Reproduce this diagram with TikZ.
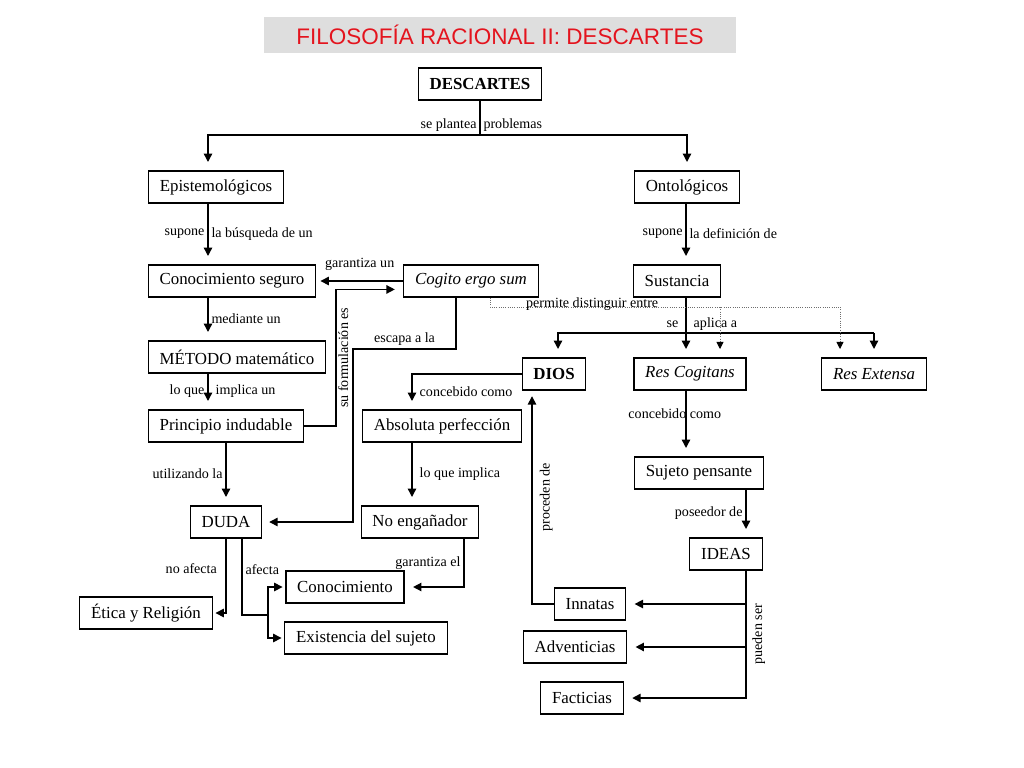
\documentclass[tikz,border=0pt]{standalone}
\usepackage{fontspec}
\setmainfont{Liberation Serif}
\newfontfamily\titulofont{Liberation Sans}
\usetikzlibrary{arrows.meta}
\definecolor{rojotit}{RGB}{228,20,30}
\definecolor{grisfondo}{RGB}{222,222,222}
\definecolor{grispunto}{RGB}{110,110,110}
\tikzset{
  caja/.style={draw, line width=0.8pt, minimum height=0.8cm, inner xsep=8pt, inner ysep=2pt, font=\fontsize{12}{14}\selectfont},
  negrita/.style={font=\fontsize{12}{14}\selectfont\bfseries},
  cursiva/.style={font=\fontsize{12}{14}\selectfont\itshape},
  etiq/.style={font=\fontsize{10}{12}\selectfont, inner sep=2pt},
  linea/.style={line width=1pt},
  flecha/.style={linea, -{Triangle[length=6pt,width=6pt]}, shorten >=6pt},
  punteado/.style={line width=0.6pt, densely dotted, grispunto},
  flechapunt/.style={punteado, -{Triangle[length=5pt,width=5pt,color=black]}, shorten >=6pt},
}
\begin{document}
\begin{tikzpicture}[x=0.025cm,y=-0.025cm]
	\useasboundingbox (0,0) rectangle (1024,768);
	\node[fill=grisfondo, minimum width=11.8cm, minimum height=0.9cm, text=rojotit, font=\titulofont\fontsize{16}{18}\selectfont] (titulo) at (500,35) {FILOSOFÍA RACIONAL II: DESCARTES};

	% conceptos
	\node[caja, negrita] (desc) at (480,84) {DESCARTES};
	\node[caja] (epis) at (216,187) {Epistemológicos};
	\node[caja] (onto) at (687,187) {Ontológicos};
	\node[caja] (conseg) at (232,281) {Conocimiento seguro};
	\node[caja, cursiva] (cogito) at (471,281) {Cogito ergo sum};
	\node[caja] (sust) at (677,281) {Sustancia};
	\node[caja] (metodo) at (237,357) {MÉTODO matemático};
	\node[caja, negrita] (dios) at (554,374) {DIOS};
	\node[caja, cursiva] (rescog) at (690,374) {Res Cogitans};
	\node[caja, cursiva] (resext) at (874,374) {Res Extensa};
	\node[caja] (princ) at (226,426) {Principio indudable};
	\node[caja] (absol) at (442,426) {Absoluta perfección};
	\node[caja] (sujeto) at (699,473) {Sujeto pensante};
	\node[caja] (duda) at (226,522) {DUDA};
	\node[caja] (noeng) at (420,522) {No engañador};
	\node[caja] (ideas) at (726,554) {IDEAS};
	\node[caja] (conoc) at (345,587) {Conocimiento};
	\node[caja] (etica) at (146,613) {Ética y Religión};
	\node[caja] (exist) at (366,638) {Existencia del sujeto};
	\node[caja] (innat) at (590,604) {Innatas};
	\node[caja] (advent) at (575,647) {Adventicias};
	\node[caja] (facti) at (582,698) {Facticias};

	% carriles
	\coordinate (cE) at (208,0);
	\coordinate (cB) at (456,0);
	\coordinate (cD) at (412,0);
	\coordinate (cG) at (686,0);
	\coordinate (cH) at (746,0);
	\coordinate (cI) at (532,0);
	\coordinate (cJ) at (242,0);
	\coordinate (cK) at (464,0);
	\coordinate (cL) at (490,0);
	\coordinate (bif) at (480,135);
	\coordinate (cC) at (353,349);
	\coordinate (cF) at (268,615);
	\coordinate (hL) at (558,333);
	\coordinate (pM) at (720,307);
	\coordinate (pR) at (840,307);

	% rama izquierda
	\draw[linea] (desc.south) -- node[etiq, pos=0.7, left] {se plantea} node[etiq, pos=0.7, right] {problemas} (desc.south |- bif);
	\draw[flecha] (bif) -| (epis.north -| cE);
	\draw[flecha] (bif) -| (onto.north);
	\draw[flecha] (epis.south -| cE) -- node[etiq, left] {supone} node[etiq, right] {la búsqueda de un} (conseg.north -| cE);
	\draw[flecha, shorten >=3pt] (cogito.west) -- node[etiq, above=5pt] {garantiza un} (conseg.east);
	\draw[flecha] (conseg.south -| cE) -- node[etiq, right] {mediante un} (metodo.north -| cE);
	\draw[flecha] (metodo.south -| cE) -- node[etiq, left] {lo que} node[etiq, right=3pt] {implica un} (princ.north -| cE);
	\draw[flecha] (princ.east) -- ++(32,0) |- node[etiq, pos=0.25, rotate=90, anchor=north, inner sep=1pt] {su formulación es} ([yshift=-6pt]cogito.west);
	\draw[flecha, shorten >=5pt] (cogito.south -| cB) |- node[etiq, pos=0.75, above] {escapa a la} (cC) |- (duda.east);
	\draw[flecha] (princ.south -| duda.north) -- node[etiq, left] {utilizando la} (duda.north);

	% dios
	\draw[flecha] (dios.west) -| node[etiq, pos=0.75, right=3pt] {concebido como} (absol.north -| cD);
	\draw[flecha] (absol.south -| cD) -- node[etiq, right=3pt] {lo que implica} (noeng.north -| cD);
	\draw[flecha] (noeng.south -| cK) |- node[etiq, pos=0.25, left=0pt] {garantiza el} (conoc.east);

	% duda
	\draw[flecha, shorten >=2pt] (duda.south) |- node[etiq, pos=0.2, left=4pt] {no afecta} (etica.east);
	\draw[linea] (duda.south -| cJ) |- node[etiq, pos=0.2, right=0pt] {afecta} (cF);
	\draw[flecha, shorten >=2pt] (cF) |- (conoc.west);
	\draw[flecha, shorten >=2pt] (cF) |- (exist.west);

	% rama derecha
	\draw[flecha] (onto.south -| cG) -- node[etiq, left] {supone} node[etiq, right] {la definición de} (sust.north -| cG);
	\draw[flecha] (sust.south -| cG) -- node[etiq, pos=0.45, left=3pt] {se} node[etiq, pos=0.45, right=3pt] {aplica a} (rescog.north -| cG);
	\draw[flecha] (resext.north |- hL) -| (dios.north -| hL);
	\draw[flecha] (resext.north |- hL) -- (resext.north);
	\draw[punteado] (cogito.south -| cL) |- node[etiq, pos=0.646, yshift=2pt, text=black] {permite distinguir entre} (pR);
	\draw[flechapunt] (pM) -- (rescog.north -| pM);
	\draw[flechapunt] (pR) -- (resext.north -| pR);
	\draw[flecha] (rescog.south -| cG) -- node[etiq, pos=0.35, xshift=-8pt] {concebido como} (sujeto.north -| cG);
	\draw[flecha] (sujeto.south -| cH) -- node[etiq, left] {poseedor de} (ideas.north -| cH);

	% ideas
	\draw[flecha] (ideas.south -| cH) |- node[etiq, pos=0.25, rotate=90, anchor=north, inner sep=4pt] {pueden ser} (facti.east);
	\draw[flecha] (cH |- innat) -- (innat.east);
	\draw[flecha] (cH |- advent) -- (advent.east);
	\draw[flecha, shorten >=4pt] (innat.west) -| node[etiq, pos=0.75, rotate=90, anchor=north, inner sep=5pt] {proceden de} (dios.south -| cI);
\end{tikzpicture}
\end{document}
